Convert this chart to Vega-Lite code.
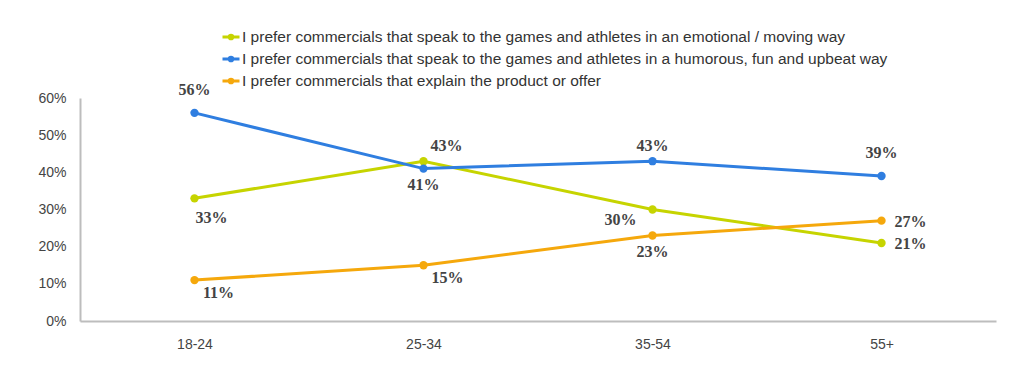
{
  "$schema": "https://vega.github.io/schema/vega-lite/v6.json",
  "autosize": "none",
  "width": 916,
  "height": 223,
  "padding": {"left": 80, "top": 98, "right": 28, "bottom": 53},
  "background": "white",
  "config": {"view": {"stroke": null}},
  "data": {
    "values": [
      {"age": "18-24", "series": "I prefer commercials that speak to the games and athletes in an emotional / moving way", "s": "emo", "v": 0.33},
      {"age": "25-34", "series": "I prefer commercials that speak to the games and athletes in an emotional / moving way", "s": "emo", "v": 0.43},
      {"age": "35-54", "series": "I prefer commercials that speak to the games and athletes in an emotional / moving way", "s": "emo", "v": 0.30},
      {"age": "55+", "series": "I prefer commercials that speak to the games and athletes in an emotional / moving way", "s": "emo", "v": 0.21},
      {"age": "18-24", "series": "I prefer commercials that speak to the games and athletes in a humorous, fun and upbeat way", "s": "fun", "v": 0.56},
      {"age": "25-34", "series": "I prefer commercials that speak to the games and athletes in a humorous, fun and upbeat way", "s": "fun", "v": 0.41},
      {"age": "35-54", "series": "I prefer commercials that speak to the games and athletes in a humorous, fun and upbeat way", "s": "fun", "v": 0.43},
      {"age": "55+", "series": "I prefer commercials that speak to the games and athletes in a humorous, fun and upbeat way", "s": "fun", "v": 0.39},
      {"age": "18-24", "series": "I prefer commercials that explain the product or offer", "s": "prod", "v": 0.11},
      {"age": "25-34", "series": "I prefer commercials that explain the product or offer", "s": "prod", "v": 0.15},
      {"age": "35-54", "series": "I prefer commercials that explain the product or offer", "s": "prod", "v": 0.23},
      {"age": "55+", "series": "I prefer commercials that explain the product or offer", "s": "prod", "v": 0.27}
    ]
  },
  "encoding": {
    "x": {
      "field": "age", "type": "ordinal", "sort": null,
      "scale": {"type": "point", "padding": 0.5},
      "axis": {"title": null, "labelAngle": 0, "ticks": false, "labelPadding": 16, "labelFont": "Liberation Sans", "labelFontSize": 14, "labelColor": "#444", "domainColor": "#bdbdbd", "domainWidth": 2, "grid": false}
    },
    "y": {
      "field": "v", "type": "quantitative",
      "scale": {"domain": [0, 0.6], "nice": false},
      "axis": {"title": null, "values": [0, 0.1, 0.2, 0.3, 0.4, 0.5, 0.6], "format": ".0%", "ticks": false, "labelPadding": 14, "labelFont": "Liberation Sans", "labelFontSize": 14, "labelColor": "#444", "domainColor": "#bdbdbd", "domainWidth": 2, "grid": false}
    }
  },
  "layer": [
    {
      "mark": {"type": "line", "strokeWidth": 3, "point": {"filled": true, "size": 70}},
      "encoding": {
        "color": {
          "field": "series", "type": "nominal",
          "scale": {
            "domain": [
              "I prefer commercials that speak to the games and athletes in an emotional / moving way",
              "I prefer commercials that speak to the games and athletes in a humorous, fun and upbeat way",
              "I prefer commercials that explain the product or offer"
            ],
            "range": ["#c6d400", "#2f7ee0", "#f5a80c"]
          },
          "legend": {
            "title": null, "orient": "none", "legendX": 141, "legendY": -71, "direction": "vertical",
            "symbolType": "M-1,0L1,0M-0.22,0A0.22,0.22 0 1,0 0.22,0A0.22,0.22 0 1,0 -0.22,0",
            "symbolSize": 289, "symbolStrokeWidth": 3, "rowPadding": 3, "labelOffset": 1,
            "labelFont": "Liberation Sans", "labelFontSize": 15.5, "labelColor": "#333", "labelLimit": 900
          }
        }
      }
    },
    {
      "transform": [{"filter": "(datum.s == 'fun' && (datum.age == '18-24' || datum.age == '55+'))"}],
      "mark": {"type": "text", "dy": -23, "font": "Liberation Serif", "fontWeight": "bold", "fontSize": 16, "color": "#444", "baseline": "middle"},
      "encoding": {"text": {"field": "v", "format": ".0%"}}
    },
    {
      "transform": [{"filter": "datum.s == 'fun' && datum.age == '35-54'"}],
      "mark": {"type": "text", "dy": -15, "font": "Liberation Serif", "fontWeight": "bold", "fontSize": 16, "color": "#444", "baseline": "middle"},
      "encoding": {"text": {"field": "v", "format": ".0%"}}
    },
    {
      "transform": [{"filter": "datum.s == 'emo' && datum.age == '25-34'"}],
      "mark": {"type": "text", "dx": 23, "dy": -15, "font": "Liberation Serif", "fontWeight": "bold", "fontSize": 16, "color": "#444", "baseline": "middle"},
      "encoding": {"text": {"field": "v", "format": ".0%"}}
    },
    {
      "transform": [{"filter": "(datum.s == 'fun' && datum.age == '25-34') || (datum.s == 'prod' && datum.age == '35-54')"}],
      "mark": {"type": "text", "dy": 16, "font": "Liberation Serif", "fontWeight": "bold", "fontSize": 16, "color": "#444", "baseline": "middle"},
      "encoding": {"text": {"field": "v", "format": ".0%"}}
    },
    {
      "transform": [{"filter": "datum.s == 'emo' && datum.age == '18-24'"}],
      "mark": {"type": "text", "dx": 17, "dy": 20, "font": "Liberation Serif", "fontWeight": "bold", "fontSize": 16, "color": "#444", "baseline": "middle"},
      "encoding": {"text": {"field": "v", "format": ".0%"}}
    },
    {
      "transform": [{"filter": "datum.s == 'prod' && (datum.age == '18-24' || datum.age == '25-34')"}],
      "mark": {"type": "text", "dx": 24, "dy": 13, "font": "Liberation Serif", "fontWeight": "bold", "fontSize": 16, "color": "#444", "baseline": "middle"},
      "encoding": {"text": {"field": "v", "format": ".0%"}}
    },
    {
      "transform": [{"filter": "datum.s == 'emo' && datum.age == '35-54'"}],
      "mark": {"type": "text", "dx": -32, "dy": 10, "font": "Liberation Serif", "fontWeight": "bold", "fontSize": 16, "color": "#444", "baseline": "middle"},
      "encoding": {"text": {"field": "v", "format": ".0%"}}
    },
    {
      "transform": [{"filter": "datum.age == '55+' && datum.s != 'fun'"}],
      "mark": {"type": "text", "dx": 13, "dy": 1, "align": "left", "font": "Liberation Serif", "fontWeight": "bold", "fontSize": 16, "color": "#444", "baseline": "middle"},
      "encoding": {"text": {"field": "v", "format": ".0%"}}
    }
  ]
}
